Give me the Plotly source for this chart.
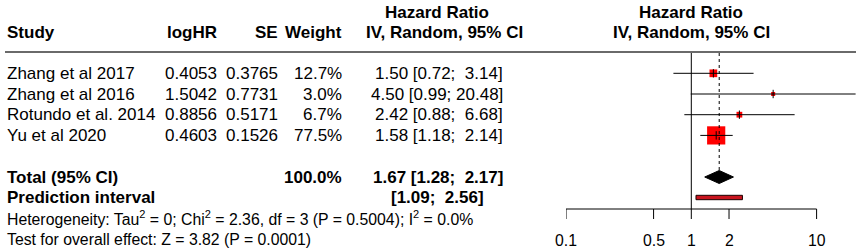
import math
import plotly.graph_objects as go

# ---------------- data ----------------
studies = ["Zhang et al 2017", "Zhang et al 2016", "Rotundo et al. 2014", "Yu et al 2020"]
log_hr = [0.4053, 1.5042, 0.8856, 0.4603]
se = [0.3765, 0.7731, 0.5171, 0.1526]
weight = [12.7, 3.0, 6.7, 77.5]
hr = [1.50, 4.50, 2.42, 1.58]
ci_lo = [0.72, 0.99, 0.88, 1.18]
ci_hi = [3.14, 20.48, 6.68, 2.14]

total_hr = 1.67
total_lo = 1.28
total_hi = 2.17
total_weight = 100.0
pred_lo = 1.09
pred_hi = 2.56

het_text = "Heterogeneity: Tau<sup>2</sup> = 0; Chi<sup>2</sup> = 2.36, df = 3 (P = 0.5004); I<sup>2</sup> = 0.0%"
test_text = "Test for overall effect: Z = 3.82 (P = 0.0001)"

tick_vals = [0.1, 0.5, 1, 2, 10]
tick_labels = ["0.1", "0.5", "1", "2", "10"]

# ---------------- layout constants (pixels) ----------------
W, H = 861, 252
FONT = "Liberation Sans, Arial, Helvetica, sans-serif"
FS = 17
FS_SMALL = 15.8
NB = "\u00a0"

row_y = [73.3, 94.0, 114.7, 135.4]
y_total = 177.0
y_pred = 197.5
y_het = 218.0
y_test = 239.0
y_head1 = 12.0
y_head2 = 32.5
y_rule = 52.0
y_axis = 209.0
y_tick_end = 219.0
y_ticklab = 240.5

x_study = 6
x_loghr = 218
x_se = 279
x_w = 343
x_ci = 504
x_pred = 485

px0 = 566.0           # pixel of 0.1
px_per_dec = 125.3
plot_right = 858.0
log_left = -1.0
log_right = -1.0 + (plot_right - px0) / px_per_dec


def px(x):
    return x / W


fig = go.Figure()

annotations = []


def txt(x, y, s, anchor="left", bold=False, size=FS):
    if bold:
        s = "<b>" + s + "</b>"
    annotations.append(dict(
        x=px(x), y=y, xref="paper", yref="y", text=s, showarrow=False,
        xanchor=anchor, yanchor="middle", borderpad=0,
        font=dict(family=FONT, size=size, color="black")))


def fmt_ci(est, lo, hi):
    return f"{est:.2f} [{lo:.2f};{NB}{NB if hi < 10 else ''}{hi:.2f}]".replace(" ", NB)


# headers
txt(437, y_head1, "Hazard Ratio", "center", True)
txt(691, y_head1, "Hazard Ratio", "center", True)
txt(x_study, y_head2, "Study", "left", True)
txt(x_loghr, y_head2, "logHR", "right", True)
txt(x_se, y_head2, "SE", "right", True)
txt(x_w, y_head2, "Weight", "right", True)
txt(444, y_head2, "IV, Random, 95% CI", "center", True)
txt(691, y_head2, "IV, Random, 95% CI", "center", True)

# study rows
for i, s in enumerate(studies):
    y = row_y[i]
    txt(x_study, y, s)
    txt(x_loghr, y, f"{log_hr[i]:.4f}", "right")
    txt(x_se, y, f"{se[i]:.4f}", "right")
    txt(x_w, y, f"{weight[i]:.1f}%", "right")
    txt(x_ci, y, fmt_ci(hr[i], ci_lo[i], ci_hi[i]), "right")

# totals
txt(x_study, y_total, "Total (95% CI)", "left", True)
txt(x_w, y_total, f"{total_weight:.1f}%", "right", True)
txt(x_ci, y_total, fmt_ci(total_hr, total_lo, total_hi), "right", True)
txt(x_study, y_pred, "Prediction interval", "left", True)
txt(x_pred, y_pred, f"[{pred_lo:.2f};{NB}{NB}{pred_hi:.2f}]", "right", True)
txt(x_study, y_het, het_text, "left", False, FS_SMALL)
txt(x_study, y_test, test_text, "left", False, FS_SMALL)

# tick labels (log axis: annotation x in log10 units)
for t, lab in zip(tick_vals, tick_labels):
    annotations.append(dict(
        x=math.log10(t), y=y_ticklab, xref="x", yref="y", text=lab, showarrow=False,
        xanchor="center", yanchor="middle", borderpad=0,
        font=dict(family=FONT, size=FS_SMALL, color="black")))

# ---------------- forest panel (log axis x) ----------------
sizes = [2.0 * math.sqrt(w) + 0.6 for w in weight]
fig.add_trace(go.Scatter(
    x=hr, y=row_y, mode="markers", xaxis="x", yaxis="y",
    marker=dict(symbol="square", size=sizes, color="#ff0000", opacity=1, line=dict(width=0)),
    hoverinfo="skip", showlegend=False))

cx, cy = [], []
for i in range(len(studies)):
    cx += [ci_lo[i], ci_hi[i], None]
    cy += [row_y[i], row_y[i], None]
fig.add_trace(go.Scatter(x=cx, y=cy, mode="lines", line=dict(color="black", width=1),
                         hoverinfo="skip", showlegend=False))

fig.add_trace(go.Scatter(
    x=hr, y=row_y, mode="markers",
    marker=dict(symbol="line-ns", size=6, opacity=1, line=dict(color="black", width=1)),
    hoverinfo="skip", showlegend=False))

fig.add_trace(go.Scatter(x=[1, 1], y=[y_rule + 1, y_axis], mode="lines",
                         line=dict(color="black", width=1), hoverinfo="skip", showlegend=False))
dh = 6.5
fig.add_trace(go.Scatter(x=[total_hr, total_hr], y=[y_rule + 1, y_total - dh], mode="lines",
                         line=dict(color="black", width=1, dash="dot"), hoverinfo="skip",
                         showlegend=False))

fig.add_trace(go.Scatter(
    x=[total_lo, total_hr, total_hi, total_hr, total_lo],
    y=[y_total, y_total - dh, y_total, y_total + dh, y_total],
    mode="lines", fill="toself", fillcolor="black", line=dict(color="black", width=1),
    hoverinfo="skip", showlegend=False))

ph = 2.2
fig.add_trace(go.Scatter(
    x=[pred_lo, pred_hi, pred_hi, pred_lo, pred_lo],
    y=[y_pred - ph, y_pred - ph, y_pred + ph, y_pred + ph, y_pred - ph],
    mode="lines", fill="toself", fillcolor="#c8141e", line=dict(color="#1a0000", width=1),
    hoverinfo="skip", showlegend=False))

fig.add_trace(go.Scatter(x=[tick_vals[0], tick_vals[-1]], y=[y_axis, y_axis], mode="lines",
                         line=dict(color="black", width=1), hoverinfo="skip", showlegend=False))
tx, ty = [], []
for t in tick_vals:
    tx += [t, t, None]
    ty += [y_axis, y_tick_end, None]
fig.add_trace(go.Scatter(x=tx, y=ty, mode="lines", line=dict(color="black", width=1),
                         hoverinfo="skip", showlegend=False))

shapes = [dict(type="line", xref="paper", yref="y", x0=px(5), x1=px(856), y0=y_rule, y1=y_rule,
               line=dict(color="#6a6a6a", width=2))]

fig.update_layout(
    width=W, height=H,
    margin=dict(l=0, r=0, t=0, b=0),
    paper_bgcolor="white", plot_bgcolor="rgba(0,0,0,0)",
    xaxis=dict(type="log", range=[log_left, log_right], domain=[px0 / W, plot_right / W],
               visible=False, fixedrange=True),
    yaxis=dict(range=[H, 0], domain=[0, 1], visible=False, fixedrange=True),
    annotations=annotations,
    shapes=shapes,
    showlegend=False,
)

fig.write_html("out.html", post_script="document.body.style.margin='0px';",
               config={"displayModeBar": False})
